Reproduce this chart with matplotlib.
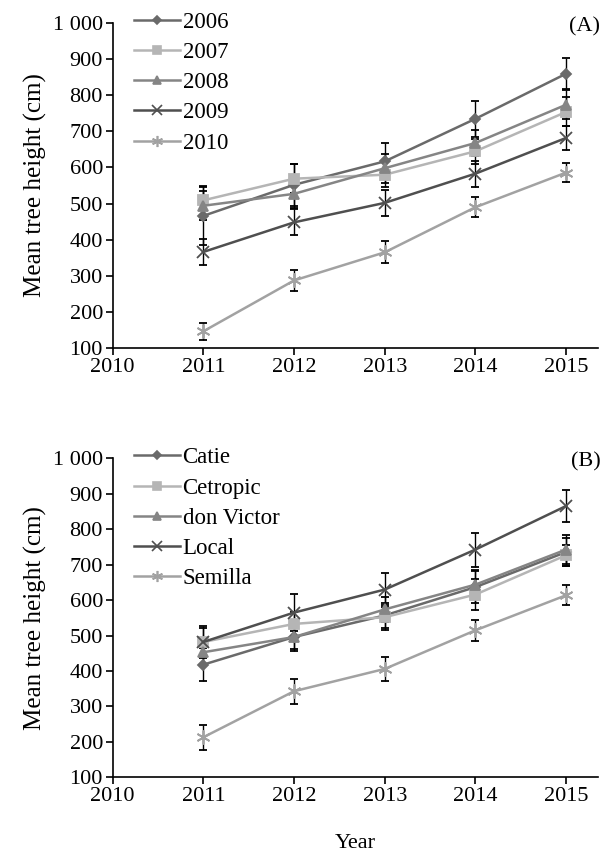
import matplotlib
matplotlib.use("Agg")
import matplotlib.pyplot as plt
from matplotlib.lines import Line2D
from matplotlib.ticker import FuncFormatter

plt.rcParams['font.family'] = ['Liberation Serif', 'DejaVu Serif']

years = [2011, 2012, 2013, 2014, 2015]

# panel A: planting year
names_a = ["2006", "2007", "2008", "2009", "2010"]
h_2006 = [466, 552, 617, 735, 860]
h_2007 = [509, 569, 580, 645, 754]
h_2008 = [494, 527, 598, 668, 774]
h_2009 = [366, 448, 502, 583, 682]
h_2010 = [146, 287, 365, 490, 586]
e_2006 = [80, 58, 50, 50, 43]
e_2007 = [40, 40, 35, 35, 40]
e_2008 = [40, 40, 40, 35, 40]
e_2009 = [36, 36, 36, 36, 33]
e_2010 = [24, 28, 30, 28, 27]

# panel B: provenance
names_b = ["Catie", "Cetropic", "don Victor", "Local", "Semilla"]
h_catie = [418, 496, 557, 637, 736]
h_cetropic = [482, 533, 552, 616, 727]
h_donvictor = [453, 496, 574, 644, 743]
h_local = [482, 565, 630, 743, 866]
h_semilla = [213, 343, 406, 515, 614]
e_catie = [47, 40, 35, 45, 40]
e_cetropic = [40, 35, 35, 45, 30]
e_donvictor = [40, 35, 35, 40, 40]
e_local = [44, 52, 48, 48, 45]
e_semilla = [35, 35, 33, 30, 28]

colors = ["#6a6a6a", "#b5b5b5", "#858585", "#4f4f4f", "#a2a2a2"]
markers = ["D", "s", "^", "x", (6, 2, 0)]
msizes = [5, 7, 7, 9, 10]


def fmt(v, pos):
    v = int(v)
    return "1 000" if v == 1000 else str(v)


def panel(ax, series, errs, names, tag):
    handles = []
    for i, (h, e, n) in enumerate(zip(series, errs, names)):
        ax.errorbar(years, h, yerr=e, color=colors[i], marker=markers[i],
                    ms=msizes[i], mew=1.3, lw=1.8, ecolor="black",
                    elinewidth=1.0, capsize=3, capthick=1.0)
        handles.append(Line2D([], [], color=colors[i], marker=markers[i],
                              ms=msizes[i] * 0.8, mew=1.2, lw=1.8, label=n))
    ax.set_xlim(2010, 2015.35)
    ax.set_ylim(100, 1000)
    ax.set_xticks([2010, 2011, 2012, 2013, 2014, 2015])
    ax.set_yticks(range(100, 1001, 100))
    ax.yaxis.set_major_formatter(FuncFormatter(fmt))
    ax.spines['top'].set_visible(False)
    ax.spines['right'].set_visible(False)
    ax.spines['left'].set_linewidth(1.2)
    ax.spines['bottom'].set_linewidth(1.2)
    ax.tick_params(labelsize=16, length=5, width=1.2, direction='out', pad=2)
    ax.set_ylabel("Mean tree height (cm)", fontsize=18, labelpad=4)
    ax.legend(handles=handles, loc="upper left", bbox_to_anchor=(0.045, 1.035),
              frameon=False, fontsize=16.5, handlelength=2.0, handletextpad=0.1,
              labelspacing=0.4, borderaxespad=0, borderpad=0)
    ax.text(1.005, 0.99, tag, transform=ax.transAxes, ha="right", va="center",
            fontsize=16)


fig = plt.figure(figsize=(6.12, 8.57), dpi=100)
ax1 = fig.add_axes([0.184, 0.594, 0.793, 0.379])
ax2 = fig.add_axes([0.184, 0.093, 0.793, 0.372])

panel(ax1, [h_2006, h_2007, h_2008, h_2009, h_2010],
      [e_2006, e_2007, e_2008, e_2009, e_2010], names_a, "(A)")
panel(ax2, [h_catie, h_cetropic, h_donvictor, h_local, h_semilla],
      [e_catie, e_cetropic, e_donvictor, e_local, e_semilla], names_b, "(B)")
ax2.set_xlabel("Year", fontsize=16, labelpad=20)

fig.savefig("out.png", dpi=100)
